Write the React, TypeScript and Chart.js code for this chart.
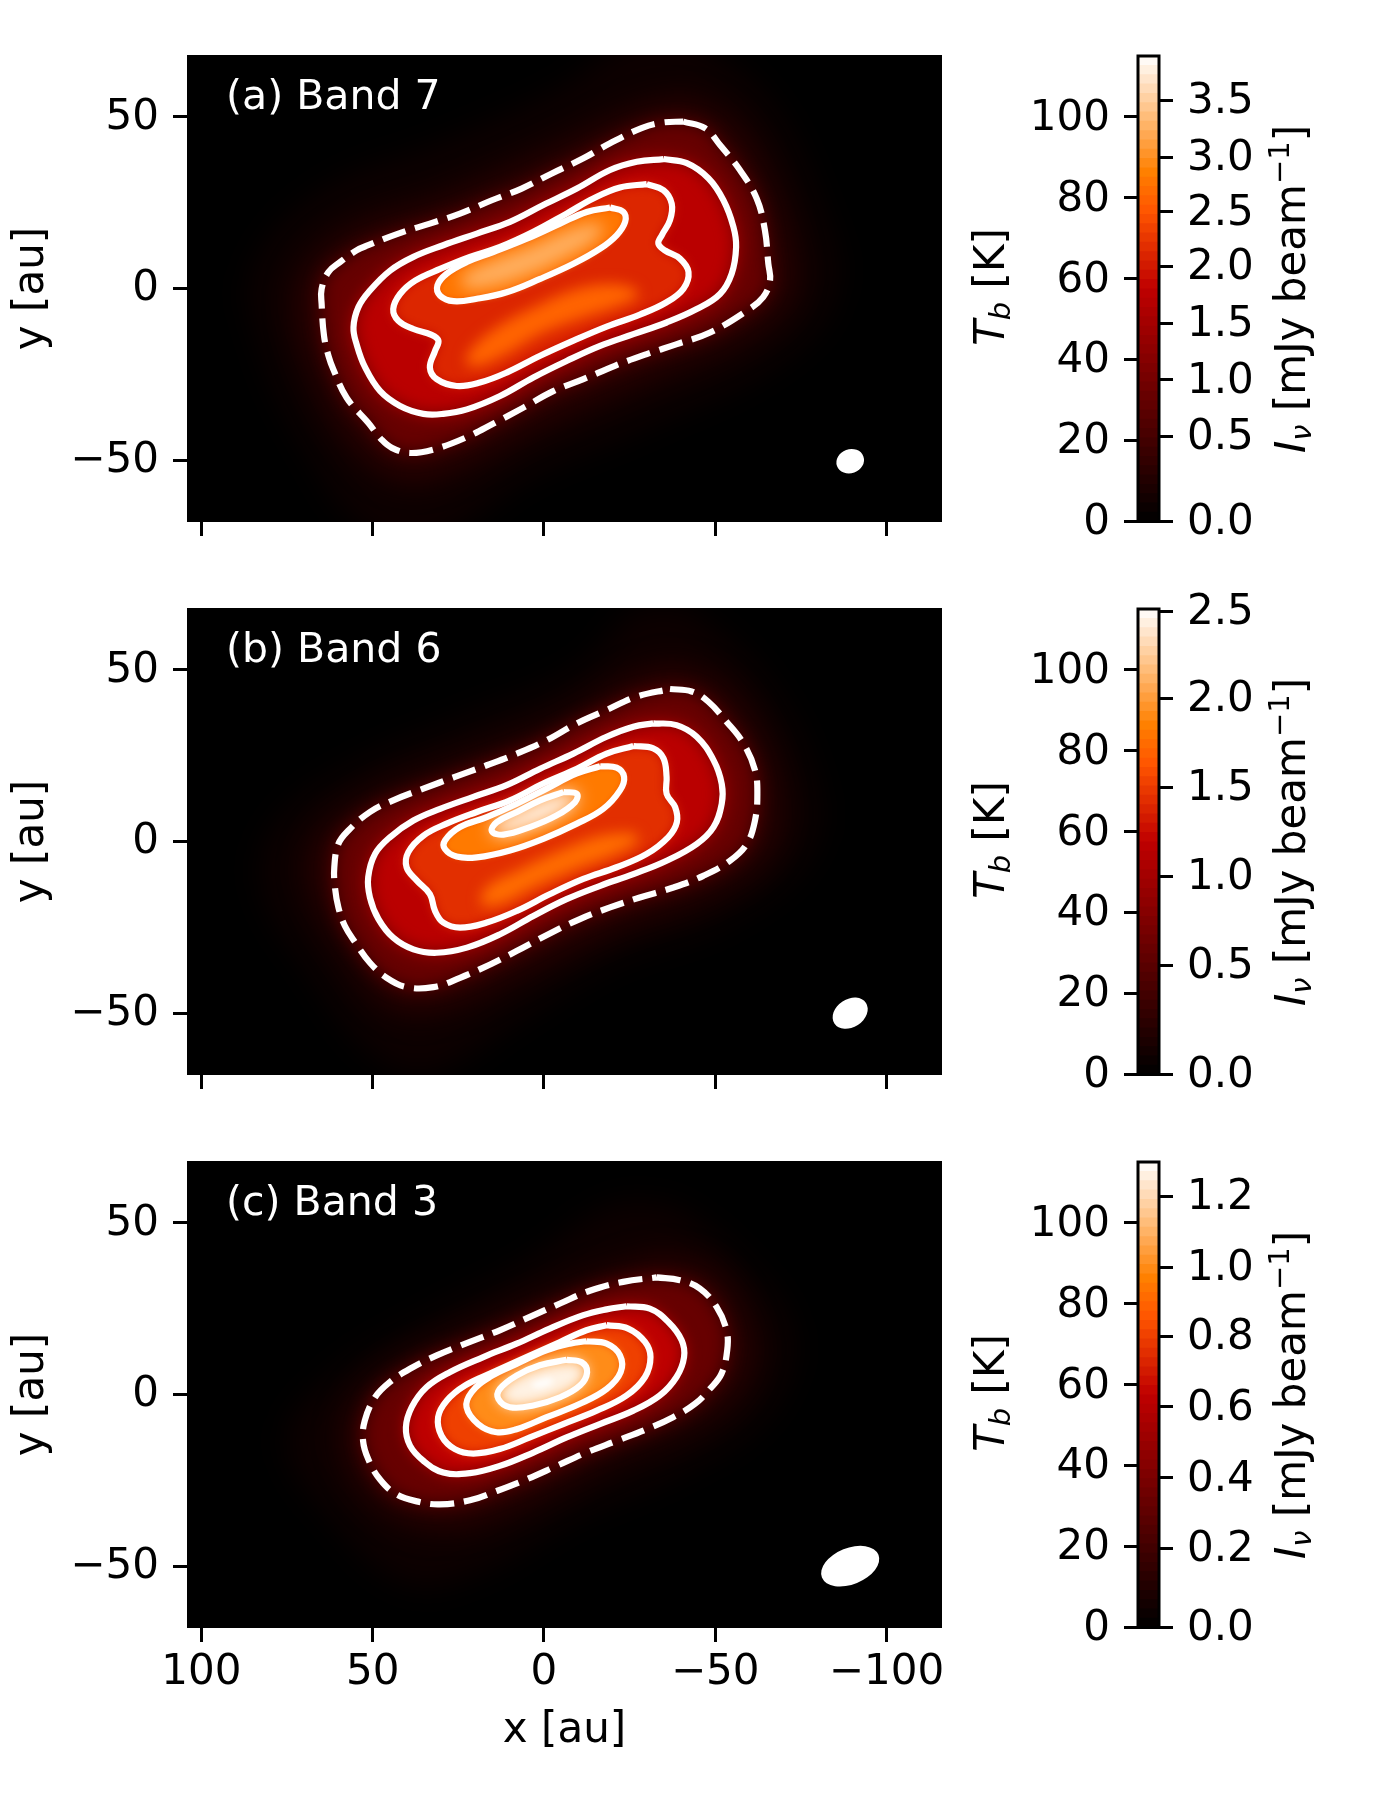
import React, { useEffect, useRef } from 'react';
import { Chart, registerables } from 'chart.js';

// blur has to be set before the filler plugin paints, so it is registered first
const fieldBlur = {
  id: 'fieldBlur',
  beforeDatasetDraw(chart: any, args: any) {
    const blur = chart.data.datasets[args.index].blurPx;
    if (blur) {
      chart.ctx.save();
      chart.ctx.filter = `blur(${blur}px)`;
    }
  },
  afterDatasetDraw(chart: any, args: any) {
    if (chart.data.datasets[args.index].blurPx) chart.ctx.restore();
  },
};
Chart.register(fieldBlur, ...registerables);
Chart.defaults.font.family = '"DejaVu Sans"';
Chart.defaults.font.size = 42;
Chart.defaults.color = '#000';

const TB_MAX = 115;
const xTickValues = [100, 50, 0, -50, -100];
const yTickValues = [50, 0, -50];
const tbTickValues = [0, 20, 40, 60, 80, 100];

const colorbarLevels = [
  2.3, 4.6, 6.9, 9.2, 11.5, 13.8, 16.1, 18.4, 20.7, 23, 25.3, 27.6, 29.9, 32.2, 34.5, 36.8, 39.1, 41.4, 43.7, 46, 48.3,
  50.6, 52.9, 55.2, 57.5, 59.8, 62.1, 64.4, 66.7, 69, 71.3, 73.6, 75.9, 78.2, 80.5, 82.8, 85.1, 87.4, 89.7, 92, 94.3,
  96.6, 98.9, 101.2, 103.5, 105.8, 108.1, 110.4, 112.7, 115,
];

const bandALabels = ['0.0', '0.5', '1.0', '1.5', '2.0', '2.5', '3.0', '3.5'];
const bandATicksK = [0, 21, 35, 49, 63, 76.5, 90, 104];
const bandBLabels = ['0.0', '0.5', '1.0', '1.5', '2.0', '2.5'];
const bandBTicksK = [0, 27, 49, 71, 93, 114.5];
const bandCLabels = ['0.0', '0.2', '0.4', '0.6', '0.8', '1.0', '1.2'];
const bandCTicksK = [0, 19.6, 37, 54.5, 72, 89, 106.5];

// contours, [x au, y au]
const aOuter = [[-45, 72], [-65, 55], [-80, 25], [-85, 0], [-70, -20], [-30, -40], [5, -55], [30, -72], [50, -72], [70, -45], [83, -15], [85, 5], [65, 28], [30, 42], [-5, 58], [-25, 72]];
const aHalo = [[-42, 56], [-56, 48], [-66, 32], [-73, 10], [-72, -3], [-60, -14], [-30, -27], [0, -40], [28, -54], [42, -56], [56, -46], [68, -25], [73, -6], [70, 6], [56, 18], [30, 27], [0, 40], [-28, 53]];
const aDashed = [[-40.7, 48.6], [-47, 46.7], [-51.4, 41.8], [-57.2, 34.5], [-62.1, 26.2], [-64.5, 17], [-65.5, 7.2], [-66, 2.3], [-64, -2.5], [-59.2, -6.5], [-48.5, -12.8], [-38.8, -16.2], [-30, -19.1], [-20.7, -22.5], [-11.5, -26.4], [-2.7, -29.9], [6, -34.7], [14.3, -39.1], [23, -43.5], [32.3, -46.9], [39.1, -47.9], [44.4, -46.4], [47.4, -44], [51.3, -39.1], [57.6, -31.8], [61.5, -23.5], [62.9, -19.6], [64.2, -13.8], [64.9, -4.5], [64.9, -0.1], [62.9, 4.8], [59.5, 7.7], [54.7, 11.1], [51.3, 12.6], [42.5, 16], [33.3, 18.9], [24.5, 21.8], [15.2, 25.7], [6.5, 29.1], [-2.3, 33.5], [-11.5, 37.9], [-19.3, 42.3], [-28.5, 46.7], [-34.4, 48.3]];
const aSolid1 = [[-34.9, 37.7], [-41.7, 36.5], [-48, 32.1], [-52.4, 25.7], [-55.3, 18], [-56.1, 12.1], [-54.8, 4.3], [-51.4, -1.6], [-44.6, -6], [-35.8, -9.9], [-26.1, -13.3], [-16.4, -16.7], [-6.6, -21.1], [3.1, -25.9], [12.8, -31.3], [22.5, -35.2], [29.4, -36.5], [35.2, -36.5], [42, -34.2], [47.8, -29.9], [52.2, -23], [54.7, -16.2], [55.6, -11.3], [54.2, -5.5], [50.8, -0.6], [44.9, 5.2], [38.1, 9.2], [29.4, 12.6], [19.6, 16], [9.9, 19.4], [0.2, 24.3], [-9.6, 29.1], [-19.3, 34.5], [-27.1, 36.9]];
const aSolid2 = [[-30, 30.4], [-34.9, 28.6], [-37.3, 24.7], [-36.8, 19.9], [-34.4, 15.5], [-33.4, 13.1], [-35.3, 11.1], [-39.7, 8.7], [-42.2, 4.8], [-40.7, -0.1], [-35.8, -4], [-28, -7.6], [-18.3, -11.1], [-8.6, -15.2], [1.1, -19.6], [10.9, -24.5], [18.7, -27.4], [25.5, -28.4], [31.3, -26.4], [33.3, -23], [31.8, -18.2], [30.8, -15.2], [32.8, -13.5], [38.1, -11.8], [42.5, -9.4], [44, -6], [42, -1.6], [37.6, 2.3], [30.3, 5.7], [21.6, 9.2], [12.8, 12.1], [3.1, 16.5], [-6.6, 21.8], [-14.4, 26.2], [-22.2, 29.4]];
const aSolid3 = [[-19.3, 23.6], [-23.2, 22.3], [-23.7, 19.4], [-21.2, 15.5], [-16.4, 11.6], [-8.6, 7.2], [1.1, 2.8], [10.9, -1.1], [19.6, -3], [26.4, -3.7], [30.3, -2.1], [31.1, 0.9], [28.4, 4.3], [22.5, 7.7], [14.8, 10.6], [5, 14.5], [-4.7, 18.9], [-12.5, 22.3]];
const aLowerRidge = [[-26.1, 0.4], [-27.6, -2.1], [-22.2, -5], [-10.5, -8.9], [1.1, -13.3], [10.9, -19.1], [18.7, -22.5], [22.5, -22], [21.6, -18.2], [13.8, -11.3], [3.1, -5.5], [-9.6, -0.1], [-19.3, 1.4]];
const aCore = [[-12.5, 18.9], [-17.3, 18.4], [-15.4, 14.5], [-6.6, 9.1], [5, 3.8], [16.7, 0.4], [23.5, 0.4], [23.5, 3.8], [14.8, 8.2], [3.1, 12.6], [-5.7, 16.5]];

const bOuter = [[-42, 68], [-62, 50], [-78, 20], [-78, -2], [-55, -22], [-20, -35], [5, -50], [35, -68], [50, -62], [68, -38], [82, -14], [78, 5], [55, 22], [25, 35], [-10, 50], [-28, 68]];
const bHalo = [[-38, 52], [-52, 46], [-64, 30], [-69, 12], [-66, -3], [-50, -15], [-20, -26], [5, -38], [30, -49], [45, -48], [58, -33], [68, -14], [67, 0], [52, 13], [25, 24], [-5, 36], [-25, 48]];
const bDashed = [[-36.8, 44.4], [-43.1, 43.7], [-48, 40.7], [-53.3, 34.9], [-58.2, 28.6], [-61.6, 20.8], [-62.3, 13.9], [-61.6, 6.1], [-59.2, -0.7], [-54.3, -5.6], [-46.5, -10], [-37.8, -13.4], [-28, -16.3], [-19.3, -19.2], [-10.5, -22.6], [-1.3, -27], [8, -31.9], [15.7, -35.8], [24.5, -39.7], [32.3, -42.4], [40.1, -42.4], [45.9, -39.7], [50.8, -35.3], [55.1, -29.4], [58.1, -24.6], [60, -19.2], [61, -13.4], [61.2, -7.5], [60, -0.7], [57.1, 3.2], [50.8, 8.6], [44, 12], [35.2, 15.4], [26, 18.8], [16.7, 22.2], [7.9, 25.6], [-0.8, 29.5], [-9.6, 34.4], [-18.3, 38.3], [-27.1, 42.2]];
const bSolid1 = [[-31.9, 34.4], [-38.7, 33.9], [-44.6, 30.5], [-49.5, 23.7], [-51.9, 16.8], [-51.9, 11], [-49.5, 4.2], [-44.6, -0.7], [-35.8, -5.6], [-26.1, -9.5], [-16.4, -12.9], [-6.6, -16.8], [3.1, -21.7], [12.8, -27], [22.5, -30.9], [31.3, -32.4], [38.1, -31.4], [44, -28], [48.3, -22.6], [50.8, -16.3], [51.3, -10.4], [49.3, -3.6], [44.9, 1.3], [38.1, 6.1], [30.3, 9.5], [20.6, 13], [10.9, 16.4], [1.1, 21.2], [-8.6, 25.6], [-18.3, 30.5], [-26.1, 33.4]];
const bSolid2 = [[-26.1, 27.8], [-31.9, 27.1], [-34.9, 24.2], [-35.8, 18.8], [-35.8, 13.9], [-38.3, 10], [-38.8, 5.6], [-36.3, 1.3], [-30, -3.6], [-21.2, -7.5], [-11.5, -10.9], [-1.8, -15.3], [7.9, -20.2], [16.7, -23.6], [24.5, -25.1], [29.4, -23.6], [31.8, -20.2], [33.3, -15.3], [37.1, -11.4], [40.1, -7.5], [39.6, -3.1], [35.2, 1.7], [28.4, 5.2], [19.6, 8.6], [9.9, 12], [0.2, 16.9], [-9.6, 21.2], [-18.3, 25.6]];
const bSolid3 = [[-16.4, 21.9], [-21.2, 21.5], [-23.4, 18.8], [-22.2, 14.9], [-17.3, 9.5], [-9.6, 5.2], [0.2, 0.8], [9.9, -2.6], [19.6, -4.6], [25.5, -4.4], [28.9, -2.2], [28.9, 0.3], [24.5, 4.2], [16.7, 7.1], [7.9, 11], [-0.8, 15.4], [-9.6, 19.8]];
const bSolid4 = [[-5.7, 14.4], [-9.6, 13.9], [-9.1, 11.5], [-3.7, 7.6], [4.1, 4.2], [11.8, 2], [15.2, 3], [13.8, 5.6], [7.9, 8.6], [1.1, 12]];
const bLowerRidge = [[-26.1, 2.7], [-27.6, 0.3], [-21.2, -3.6], [-9.6, -8], [3.1, -13.4], [12.8, -18.2], [18.2, -18.2], [16.7, -13.4], [7.9, -8.5], [-4.7, -2.6], [-16.4, 1.7]];

const cOuter = [[-38, 55], [-55, 42], [-72, 18], [-65, -5], [-40, -22], [-10, -35], [20, -52], [40, -55], [60, -38], [75, -14], [62, 5], [35, 22], [5, 38], [-20, 55]];
const cHalo = [[-34, 41], [-50, 36], [-60, 20], [-60, 6], [-48, -7], [-20, -19], [10, -34], [30, -39], [48, -33], [58, -18], [57, -5], [45, 8], [20, 20], [-10, 33]];
const cDashed = [[-32.9, 34.1], [-39.7, 33.3], [-45.5, 30.9], [-50.4, 25.5], [-53.3, 18.7], [-53.5, 12.9], [-51.8, 6], [-48.4, 1.6], [-44.1, -2.7], [-37.7, -6.6], [-30, -10.1], [-21.2, -13.5], [-12.4, -16.9], [-3.7, -20.8], [5.1, -24.7], [13.8, -28.1], [21.6, -30.8], [30.4, -32], [36.7, -31.2], [43, -29.1], [47.9, -24.7], [51.3, -18.8], [52.8, -13.5], [52.3, -7.6], [49.3, -0.8], [45, 3.6], [39.1, 7.5], [31.3, 11.4], [21.6, 15.3], [12.9, 18.7], [4.1, 22.6], [-4.7, 26.5], [-13.4, 30.2], [-23.1, 32.8]];
const cSolid1 = [[-24.1, 25.7], [-30.9, 25], [-36.3, 21.1], [-40.2, 15.8], [-40.9, 10.9], [-38.7, 5.1], [-33.8, -0.3], [-26.1, -4.7], [-16.3, -8.6], [-6.6, -12.5], [3.1, -16.9], [12.9, -20.8], [21.6, -22.9], [29.4, -22.7], [35.2, -19.3], [39.1, -14.9], [40.3, -9.6], [38.6, -3.7], [34.3, 2.1], [27.5, 6.5], [17.7, 10.9], [8, 14.8], [-1.7, 19.2], [-11.5, 23.1], [-18.3, 24.8]];
const cSolid2 = [[-18.3, 20.2], [-24.6, 19.2], [-29.5, 15.3], [-31.1, 10.9], [-29.5, 5.1], [-24.1, -0.3], [-15.4, -4.7], [-5.6, -8.6], [4.1, -12.5], [12.9, -15.9], [20.6, -17.2], [26, -15.9], [29.9, -12], [30.9, -6.6], [28.4, -1.8], [23.1, 2.6], [14.8, 6.5], [5.1, 10.9], [-4.7, 15.3], [-12.4, 18.7]];
const cSolid3 = [[-12.4, 15.5], [-18.3, 14.8], [-22.2, 11.4], [-22.4, 6.5], [-18.3, 1.6], [-10.5, -2.7], [-0.8, -6.6], [8, -10.1], [13.8, -11], [19.2, -8.6], [22.6, -3.7], [21.1, 0.7], [15.8, 5.1], [8, 8.9], [-0.9, 12.9], [-7.6, 14.8]];
const cSolid4 = [[-6.6, 10.1], [-11, 9.4], [-12.6, 6.5], [-10.5, 2.6], [-4.7, -0.8], [3.1, -3.2], [9.9, -3.7], [13.3, -1.3], [12.9, 1.6], [8, 5.5], [1.2, 8.5]];
const cCore = [[-1.7, 4.9], [-2.7, 3.6], [2.2, 1.9], [3.6, 3.1]];

const heatColor = (kelvin: number) => {
  const t = Math.min(kelvin / TB_MAX, 1);
  const ch = (v: number) => Math.round(255 * Math.max(0, Math.min(1, v)));
  return `rgb(${ch(1.5 * t)},${ch(2 * t - 1)},${ch(4 * t - 3)})`;
};

const closed = (pts: number[][]) => [...pts, pts[0]].map(([x, y]) => ({ x, y }));

const fillLayer = (pts: number[][], level: number, blurPx: number) => ({
  data: closed(pts),
  showLine: true,
  fill: 'shape',
  backgroundColor: heatColor(level),
  borderColor: 'transparent',
  borderWidth: 0,
  pointRadius: 0,
  tension: 0.4,
  blurPx,
});

const contourLine = (pts: number[][], dashed = false) => ({
  data: closed(pts),
  showLine: true,
  fill: false,
  borderColor: '#fff',
  borderWidth: 6.2,
  borderDash: dashed ? [24, 10] : [],
  pointRadius: 0,
  tension: 0.4,
});

const panels = [
  {
    top: 55,
    label: '(a) Band 7',
    beam: { x: -89.4, y: -50.3, major: 4.1, minor: 3.5, angle: 20 },
    layers: [
      fillLayer(aOuter, 4, 16), fillLayer(aHalo, 12, 14), fillLayer(aDashed, 31, 9), fillLayer(aSolid1, 56, 9),
      fillLayer(aSolid2, 66, 6), fillLayer(aLowerRidge, 80, 7), fillLayer(aSolid3, 84, 3), fillLayer(aCore, 97, 8),
    ],
    lines: [contourLine(aDashed, true), contourLine(aSolid1), contourLine(aSolid2), contourLine(aSolid3)],
    rightLabels: bandALabels,
    rightTicks: bandATicksK,
  },
  {
    top: 608,
    label: '(b) Band 6',
    beam: { x: -89.4, y: -50, major: 5.5, minor: 4.1, angle: 33 },
    layers: [
      fillLayer(bOuter, 4, 16), fillLayer(bHalo, 12, 14), fillLayer(bDashed, 31, 9), fillLayer(bSolid1, 56, 9),
      fillLayer(bSolid2, 68, 6), fillLayer(bLowerRidge, 82, 7), fillLayer(bSolid3, 85, 3), fillLayer(bSolid4, 115, 9),
    ],
    lines: [contourLine(bDashed, true), contourLine(bSolid1), contourLine(bSolid2), contourLine(bSolid3), contourLine(bSolid4)],
    rightLabels: bandBLabels,
    rightTicks: bandBTicksK,
  },
  {
    top: 1161,
    label: '(c) Band 3',
    beam: { x: -89.4, y: -50, major: 8.9, minor: 5.3, angle: 22 },
    layers: [
      fillLayer(cOuter, 4, 16), fillLayer(cHalo, 12, 14), fillLayer(cDashed, 31, 9), fillLayer(cSolid1, 57, 8),
      fillLayer(cSolid2, 72, 6), fillLayer(cSolid3, 89, 5), fillLayer(cSolid4, 112, 7), fillLayer(cCore, 116, 3),
    ],
    lines: [contourLine(cDashed, true), contourLine(cSolid1), contourLine(cSolid2), contourLine(cSolid3), contourLine(cSolid4)],
    rightLabels: bandCLabels,
    rightTicks: bandCTicksK,
  },
];

const fixedTicks = (values: number[]) => (scale: any) => {
  scale.ticks = values.map((value) => ({ value }));
};
const signed = (v: any) => String(v).replace('-', '\u2212');

const fieldDecor = (label: string, beam: any) => ({
  id: 'fieldDecor',
  beforeDatasetsDraw(chart: any) {
    const { ctx, chartArea: a } = chart;
    ctx.save();
    ctx.fillStyle = '#000';
    ctx.fillRect(a.left, a.top, a.right - a.left, a.bottom - a.top);
    ctx.restore();
  },
  afterDatasetsDraw(chart: any) {
    const { ctx, scales } = chart;
    const { x, y } = scales;
    ctx.save();
    ctx.fillStyle = '#fff';
    ctx.font = '41px "DejaVu Sans"';
    ctx.textBaseline = 'alphabetic';
    ctx.fillText(label, x.getPixelForValue(92.8), y.getPixelForValue(52.3));
    const major = Math.abs(x.getPixelForValue(beam.major) - x.getPixelForValue(0));
    const minor = Math.abs(x.getPixelForValue(beam.minor) - x.getPixelForValue(0));
    ctx.beginPath();
    ctx.ellipse(x.getPixelForValue(beam.x), y.getPixelForValue(beam.y), major, minor, (-beam.angle * Math.PI) / 180, 0, Math.PI * 2);
    ctx.fill();
    ctx.restore();
  },
});

// mixed italic / subscript axis titles, Chart.js titles only take one font
const tbTitle = [
  { text: 'T', italic: true },
  { text: 'b', italic: true, shift: 6, small: true },
  { text: ' [K]' },
];
const intensityTitle = [
  { text: 'I', italic: true },
  { text: '\u03bd', italic: true, shift: 6, small: true },
  { text: ' [mJy beam' },
  { text: '\u22121', shift: -16, small: true },
  { text: ']' },
];

const drawTitle = (ctx: any, parts: any[], baseX: number, centerY: number) => {
  const fontOf = (p: any) => `${p.italic ? 'italic ' : ''}${p.small ? 29 : 42}px "DejaVu Sans"`;
  let total = 0;
  parts.forEach((p) => {
    ctx.font = fontOf(p);
    total += ctx.measureText(p.text).width;
  });
  ctx.save();
  ctx.translate(baseX, centerY);
  ctx.rotate(-Math.PI / 2);
  ctx.fillStyle = '#000';
  let pos = -total / 2;
  parts.forEach((p) => {
    ctx.font = fontOf(p);
    ctx.fillText(p.text, pos, p.shift || 0);
    pos += ctx.measureText(p.text).width;
  });
  ctx.restore();
};

const colorbarDecor = {
  id: 'colorbarDecor',
  afterDraw(chart: any) {
    const { ctx, chartArea: a } = chart;
    ctx.save();
    ctx.strokeStyle = '#000';
    ctx.lineWidth = 3;
    ctx.strokeRect(a.left, a.top, a.right - a.left, a.bottom - a.top);
    ctx.restore();
    drawTitle(ctx, tbTitle, 1004 - 960, a.top + 231);
    drawTitle(ctx, intensityTitle, 1305 - 960, a.top + 233);
  },
};

const FieldChart = ({ panel, showX }: any) => {
  const ref = useRef<HTMLCanvasElement>(null);
  const below = showX ? 173 : 50;

  useEffect(() => {
    const all = [...panel.layers, ...panel.lines];
    const datasets = all.map((d, i) => ({ ...d, order: all.length - i }));
    const chart = new Chart(ref.current as any, {
      type: 'scatter',
      data: { datasets },
      plugins: [fieldDecor(panel.label, panel.beam)],
      options: {
        animation: false,
        responsive: false,
        events: [],
        layout: { padding: { top: 55, right: 58, left: 0, bottom: 0 } },
        plugins: { legend: { display: false }, tooltip: { enabled: false } },
        scales: {
          x: {
            type: 'linear',
            reverse: true,
            min: -116.2,
            max: 104.2,
            afterBuildTicks: fixedTicks(xTickValues),
            afterFit: (s: any) => { s.height = below; },
            border: { display: false },
            grid: { drawOnChartArea: false, drawTicks: true, tickLength: 14, tickWidth: 3, tickColor: '#000' },
            ticks: { display: showX, autoSkip: false, maxRotation: 0, padding: 6, callback: signed },
            title: { display: showX, text: 'x [au]', padding: { top: 0, bottom: 45 } },
          },
          y: {
            type: 'linear',
            min: -68,
            max: 68,
            afterBuildTicks: fixedTicks(yTickValues),
            afterFit: (s: any) => { s.width = 187; },
            border: { display: false },
            grid: { drawOnChartArea: false, drawTicks: true, tickLength: 14, tickWidth: 3, tickColor: '#000' },
            ticks: { autoSkip: false, padding: 14, labelOffset: 1, callback: signed },
            title: { display: true, text: 'y [au]', padding: { top: 7, bottom: 0 } },
          },
        },
      } as any,
    });
    return () => chart.destroy();
  }, [panel, showX]);

  return (
    <canvas
      ref={ref}
      width={1000}
      height={522 + below}
      style={{ position: 'absolute', left: 0, top: panel.top - 55 }}
    />
  );
};

const Colorbar = ({ panel }: any) => {
  const ref = useRef<HTMLCanvasElement>(null);

  useEffect(() => {
    const datasets = colorbarLevels.map((hi, i) => ({
      data: [hi],
      backgroundColor: heatColor(hi - 1.15),
      borderWidth: 0,
      barPercentage: 1,
      categoryPercentage: 1,
      grouped: false,
      order: i,
      yAxisID: 'y',
    }));
    const chart = new Chart(ref.current as any, {
      type: 'bar',
      data: { labels: [''], datasets },
      plugins: [colorbarDecor],
      options: {
        animation: false,
        responsive: false,
        events: [],
        layout: { padding: { top: 56, bottom: 78.5 } },
        plugins: { legend: { display: false }, tooltip: { enabled: false } },
        scales: {
          x: { display: false, grid: { display: false } },
          y: {
            position: 'left',
            min: 0,
            max: TB_MAX,
            afterBuildTicks: fixedTicks(tbTickValues),
            afterFit: (s: any) => { s.width = 178; },
            border: { display: false },
            grid: { drawOnChartArea: false, drawTicks: true, tickLength: 14, tickWidth: 3, tickColor: '#000' },
            ticks: { autoSkip: false, padding: 14, labelOffset: 2 },
          },
          y2: {
            position: 'right',
            min: 0,
            max: TB_MAX,
            afterBuildTicks: fixedTicks(panel.rightTicks),
            afterFit: (s: any) => { s.width = 221; },
            border: { display: false },
            grid: { drawOnChartArea: false, drawTicks: true, tickLength: 14, tickWidth: 3, tickColor: '#000' },
            ticks: {
              autoSkip: false,
              padding: 14,
              labelOffset: 2,
              callback: (_v: any, i: number) => panel.rightLabels[i],
            },
          },
        },
      } as any,
    });
    return () => chart.destroy();
  }, [panel]);

  return (
    <canvas ref={ref} width={420} height={600} style={{ position: 'absolute', left: 960, top: panel.top - 55 }} />
  );
};

export default function App() {
  return (
    <div style={{ position: 'absolute', left: 0, top: 0, width: 1380, height: 1800, background: '#fff', overflow: 'hidden' }}>
      {panels.map((panel, i) => (
        <React.Fragment key={panel.label}>
          <FieldChart panel={panel} showX={i === panels.length - 1} />
          <Colorbar panel={panel} />
        </React.Fragment>
      ))}
    </div>
  );
}
